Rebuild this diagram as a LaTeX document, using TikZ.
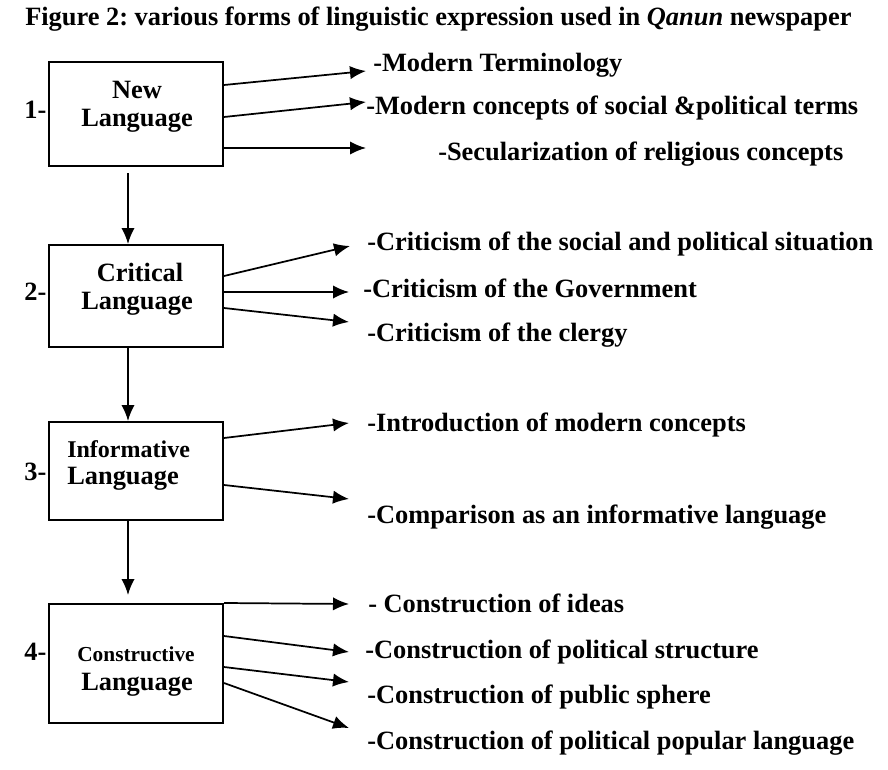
\documentclass[tikz,border=0pt]{standalone}
\usepackage{fontspec}
\setmainfont{Liberation Serif}
\usetikzlibrary{arrows.meta,calc}
\begin{document}
\frenchspacing
\begin{tikzpicture}[x=0.75pt,y=-0.75pt,
  box/.style={draw,line width=1.5pt,minimum width=130.5pt,inner sep=0pt},
  arr/.style={line width=1.3pt,-{Latex[length=12pt,width=10pt]}},
  item/.style={anchor=west,inner sep=0pt,yshift=-3pt,font=\fontsize{19.8}{22}\bfseries,text height=0.7em,text depth=0.22em},
  intxt/.style={inner sep=0pt,yshift=-2pt,font=\fontsize{19.8}{22}\bfseries},
  num/.style={anchor=east,inner sep=1pt,font=\fontsize{19.8}{22}\bfseries}]
\path[use as bounding box] (0,0) rectangle (888,770);
% title
\node[anchor=west,inner sep=0pt,font=\fontsize{19.8}{22}\bfseries] (title) at (25,19)
  {Figure 2: various forms of linguistic expression used in \textit{Qanun} newspaper};
% boxes
\node[box,minimum height=78pt] (b1) at (136,114) {};
\node[box,minimum height=76.5pt] (b2) at (136,296) {};
\node[box,minimum height=73.5pt] (b3) at (136,471) {};
\node[box,minimum height=89.25pt] (b4) at (136,663.5) {};
% box texts
\node[intxt] (t1a) at (137,87) {New};
\node[intxt] (t1b) at (137,118) {Language};
\node[intxt] (t2a) at (140,270) {Critical};
\node[intxt] (t2b) at (137,301) {Language};
\node[intxt,anchor=west,font=\fontsize{18}{22}\bfseries] (t3a) at (67,446) {Informative};
\node[intxt,anchor=west] (t3b) at (67,476) {Language};
\node[intxt,font=\fontsize{16}{20}\bfseries] (t4a) at (136,652) {Constructive};
\node[intxt] (t4b) at (137,682) {Language};
% numbers
\node[num] (n1) at (b1.west |- {0,110}) {1-};
\node[num] (n2) at (b2.west |- {0,292}) {2-};
\node[num] (n3) at (b3.west |- {0,472}) {3-};
\node[num] (n4) at (b4.west |- {0,652}) {4-};
% vertical arrows
\draw[arr] ($(b1.south)+(-8,6)$) -- ($(b2.north)+(-8,0)$);
\draw[arr] ($(b2.south)+(-8,0)$) -- ($(b3.north)+(-8,0)$);
\draw[arr] ($(b3.south)+(-8,0)$) -- ($(b4.north)+(-8,-8)$);
% items box 1
\node[item] (i11) at (373,64) {-Modern Terminology};
\node[item] (i12) at (366,107) {-Modern concepts of social \&political terms};
\node[item] (i13) at (438,153) {-Secularization of religious concepts};
\coordinate (p11) at (366,71);
\coordinate (p12) at (366,102);
\coordinate (p13) at (366,148);
\draw[arr] (b1.east |- {0,85}) -- (p11);
\draw[arr] (b1.east |- {0,117}) -- (p12);
\draw[arr] (b1.east |- {0,148}) -- (p13);
% items box 2
\node[item] (i21) at (367,243) {-Criticism of the social and political situation};
\node[item] (i22) at (363,290) {-Criticism of the Government};
\node[item] (i23) at (367,334) {-Criticism of the clergy};
\coordinate (p21) at (350,246);
\coordinate (p22) at (349,292);
\coordinate (p23) at (349,322);
\draw[arr] (b2.east |- {0,276}) -- (p21);
\draw[arr] (b2.east |- {0,292}) -- (p22);
\draw[arr] (b2.east |- {0,308}) -- (p23);
% items box 3
\node[item] (i31) at (367,424) {-Introduction of modern concepts};
\node[item] (i32) at (367,516) {-Comparison as an informative language};
\coordinate (p31) at (349,423);
\coordinate (p32) at (349,499);
\draw[arr] (b3.east |- {0,438}) -- (p31);
\draw[arr] (b3.east |- {0,485}) -- (p32);
% items box 4
\node[item] (i41) at (368,605) {- Construction of ideas};
\node[item] (i42) at (365,651) {-Construction of political structure};
\node[item] (i43) at (367,696) {-Construction of public sphere};
\node[item] (i44) at (367,742) {-Construction of political popular language};
\coordinate (p41) at (349,604);
\coordinate (p42) at (349,652);
\coordinate (p43) at (349,682);
\coordinate (p44) at (349,728);
\draw[arr] (b4.north east) -- (p41);
\draw[arr] (b4.east |- {0,636}) -- (p42);
\draw[arr] (b4.east |- {0,667}) -- (p43);
\draw[arr] (b4.east |- {0,683}) -- (p44);
\end{tikzpicture}
\end{document}
